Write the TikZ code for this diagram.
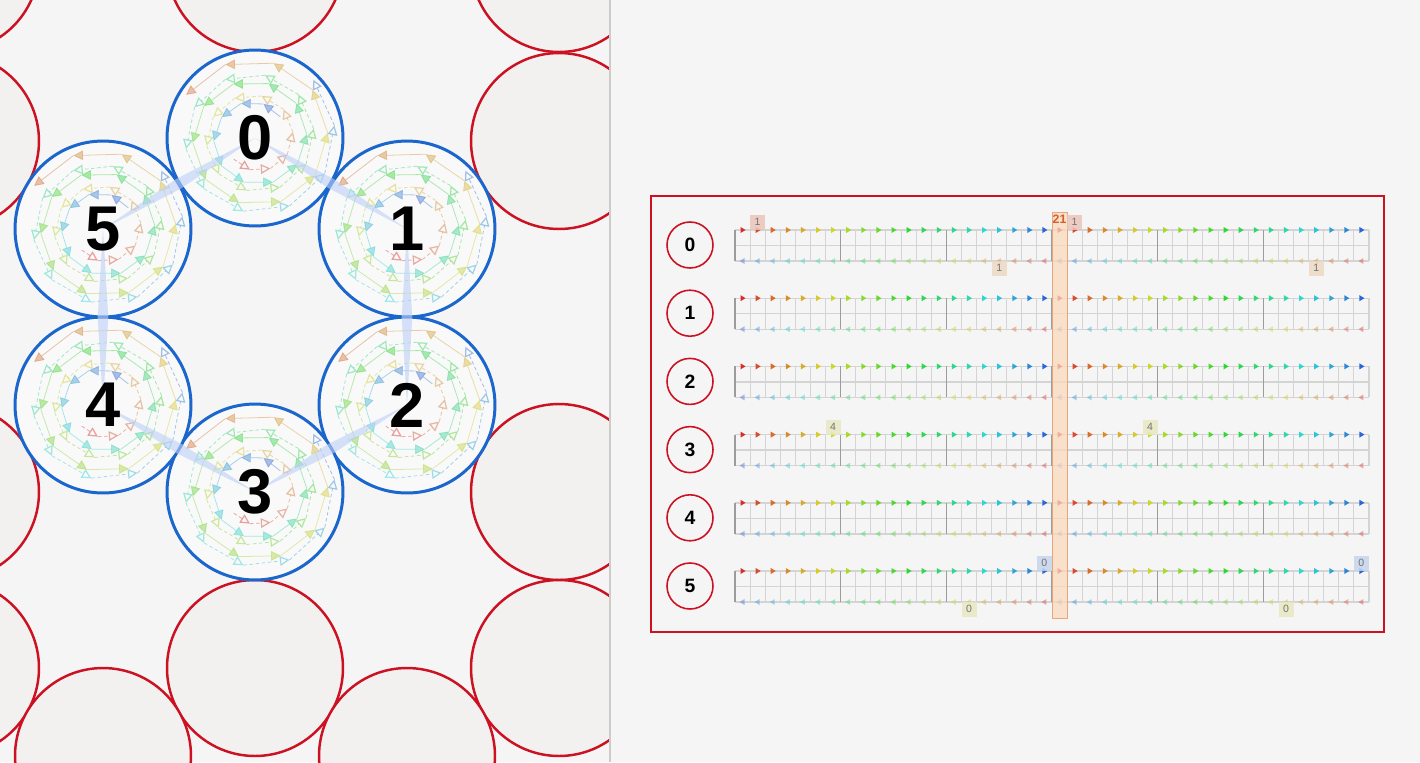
\PassOptionsToPackage{rgb}{xcolor}
\documentclass[tikz,border=0pt]{standalone}
\usepackage{fontspec}
\setmainfont{Liberation Sans}
\usetikzlibrary{arrows.meta,calc,positioning}
\definecolor{paneBg}{HTML}{F5F5F5}
\definecolor{ringRed}{HTML}{CC1122}
\definecolor{cellFill}{HTML}{F2F1EF}
\definecolor{ringBlue}{HTML}{1A66CC}
\definecolor{hexFill}{HTML}{F9F9F9}
\definecolor{linkBlue}{HTML}{BCD0F6}
\definecolor{gridGray}{HTML}{D4D4D4}
\definecolor{majorGray}{HTML}{9C9C9C}
\definecolor{colFill}{HTML}{FAD9BC}
\definecolor{colEdge}{HTML}{E8A77A}
\definecolor{colText}{HTML}{D2602A}
\definecolor{tagRed}{HTML}{EBC4BA}
\definecolor{tagOrange}{HTML}{EDD9C3}
\definecolor{tagYellow}{HTML}{E9E8C2}
\definecolor{tagBlue}{HTML}{C6D5EB}

\begin{document}
\begin{tikzpicture}[x=0.02cm, y=-0.02cm,
  redcell/.style={circle, draw=ringRed, line width=1.4pt, fill=cellFill, minimum size=3.52cm, inner sep=0pt},
  bluecell/.style={circle, draw=ringBlue, line width=1.7pt, fill=hexFill, minimum size=3.52cm, inner sep=0pt},
  celllabel/.style={font=\bfseries\fontsize{36}{36}\selectfont, inner sep=0pt},
  link/.style={fill=linkBlue, opacity=0.6},
  spinA/.style={line width=0.45pt, dash pattern=on 2pt off 1.5pt, opacity=0.55, -{Triangle[open, length=5.5pt, width=5.5pt, line width=0.7pt]}},
  spinB/.style={line width=0.45pt, opacity=0.5, -{Triangle[length=5.5pt, width=5.5pt]}},
  lanecircle/.style={circle, draw=ringRed, line width=0.9pt, minimum size=0.92cm, inner sep=0pt, font=\bfseries\fontsize{11}{11}\selectfont},
  tag/.style={minimum size=0.3cm, inner sep=0pt, fill opacity=0.85, text opacity=1, text=black!55, font=\fontsize{6}{6}\selectfont},
  colbox/.style={draw=colEdge, line width=0.5pt, fill=colFill, fill opacity=0.75, minimum width=0.3cm, minimum height=8.12cm, inner sep=0pt},
]
\useasboundingbox (0,0) rectangle (1420,762);
\fill[paneBg] (0,0) rectangle (1420,762);

\begin{scope}
\clip (0,0) rectangle (610,762);
\foreach \x/\y [count=\n] in {-49/-36,255/-36,559/-36,-49/141,559/141,-49/492,559/492,-49/668,255/668,559/668,103/756,407/756} {
  \node[redcell] (r\n) at (\x,\y) {};
}
\foreach \x/\y [count=\n from 0] in {255/138,407/229,407/405,255/492,103/405,103/229} {
  \node[bluecell] (b\n) at (\x,\y) {};
}
\foreach \n in {0,...,5} {
  \foreach \k in {0,...,24} {
    \pgfmathsetmacro\hu{9*\k}
    \definecolor{spin}{Hsb}{\hu,0.6,0.85}
    \draw[spinA, draw=spin] ($(b\n)+(135-36*\k:30+2.1*\k)$) -- ($(b\n)+(99-36*\k:32.1+2.1*\k)$);
  }
  \foreach \k in {0,...,22} {
    \pgfmathsetmacro\hu{220-9*\k}
    \definecolor{spin}{Hsb}{\hu,0.6,0.85}
    \draw[spinB, draw=spin] ($(b\n)+(-40-36*\k:33+2.1*\k)$) -- ($(b\n)+(-76-36*\k:35.1+2.1*\k)$);
  }
}
\foreach \a/\b in {0/1,1/2,2/3,3/4,4/5,5/0} {
  \fill[link] (b\a.center) -- ($(b\a)!0.5!(b\b)!3pt!90:(b\b)$) -- (b\b.center) -- ($(b\a)!0.5!(b\b)!3pt!-90:(b\b)$) -- cycle;
}
\foreach \n in {0,...,5} {
  \node[celllabel] (t\n) at (b\n) {\n};
}
\end{scope}
\draw[black!20, line width=0.6pt] (610,0) -- (610,762);

\draw[ringRed, line width=0.6pt] (651,196) rectangle (1384,632);
\foreach \r in {0,...,5} {
  \node[lanecircle] (q\r) at (690,245+68.2*\r) {\r};
  \pgfmathsetmacro\yt{230+68.2*\r}
  \draw[gridGray, line width=0.8pt] (735,\yt) -- (1369,\yt) (735,\yt+15.5) -- (1369,\yt+15.5) (735,\yt+31) -- (1369,\yt+31);
  \foreach \c in {1,...,42} {
    \draw[gridGray, line width=0.6pt] (735+15.095*\c,\yt) -- ++(0,31);
  }
  \foreach \c in {0,7,14,21,28,35} {
    \draw[majorGray, line width=0.9pt] (735+15.095*\c,\yt) -- ++(0,31);
  }
  \foreach \c in {0,...,41} {
    \pgfmathsetmacro\xm{735+15.095*(\c+0.5)}
    \pgfmathsetmacro\hu{11*mod(\c,21)}
    \definecolor{mk}{Hsb}{\hu,0.8,0.85}
    \fill[mk] (\xm-2,\yt-3) -- ++(5,3) -- ++(-5,3) -- cycle;
    \pgfmathsetmacro\hu{220-11*mod(\c,21)}
    \definecolor{mk}{Hsb}{\hu,0.6,0.85}
    \fill[mk, fill opacity=0.5] (\xm+2,\yt+28) -- ++(-5,3) -- ++(5,3) -- cycle;
  }
}

\node[colbox] (hl) at (1059.5,415) {};
\node[font=\bfseries\fontsize{7}{7}\selectfont, text=colText, inner sep=0pt] (hlnum) at (1059.5,219) {21};

\foreach \x/\y/\t/\col [count=\n] in {757.6/222/1/tagRed,1074.6/222/1/tagRed,999.2/268/1/tagOrange,1316.2/268/1/tagOrange,833.1/427/4/tagYellow,1150.1/427/4/tagYellow,1044.4/563/0/tagBlue,1361.4/563/0/tagBlue,969/609/0/tagYellow,1286/609/0/tagYellow} {
  \node[tag, fill=\col] (g\n) at (\x,\y) {\t};
}
\end{tikzpicture}
\end{document}
